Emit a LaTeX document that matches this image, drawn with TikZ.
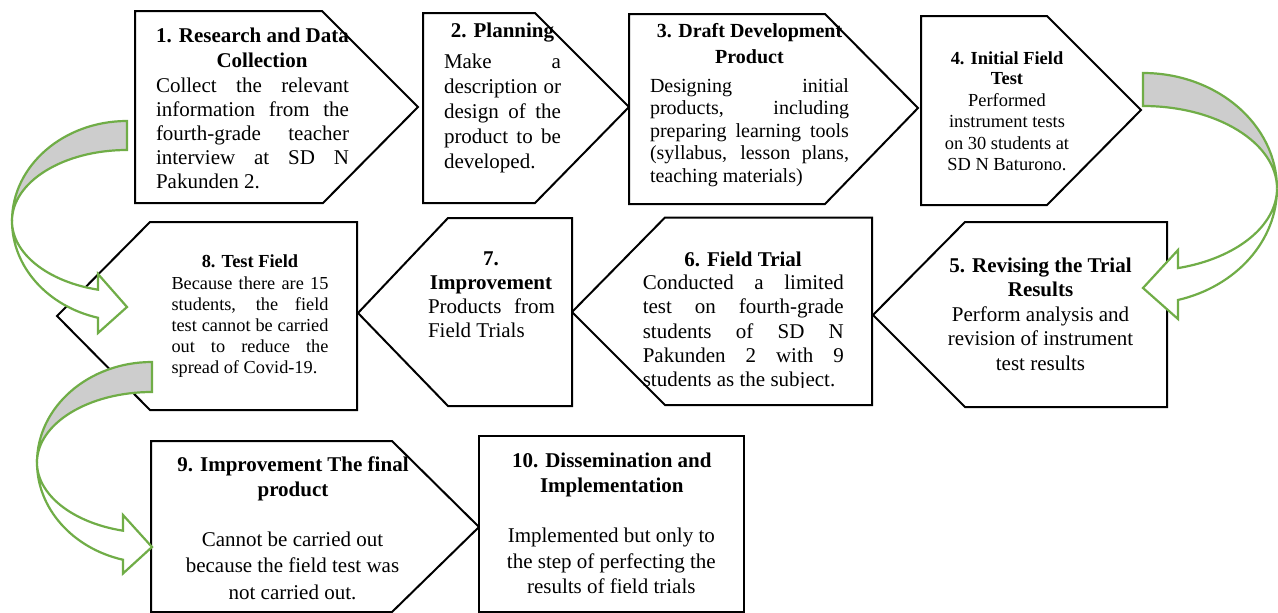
\documentclass[tikz,border=0pt]{standalone}
\usepackage{fontspec}
\setmainfont{Liberation Serif}
\newcommand\fsz[2]{\fontsize{#1}{#2}\selectfont}
% one justified line of fixed width (in pt)
\newcommand\jl[2]{\makebox[#1pt][s]{#2}}
\definecolor{arrowgreen}{HTML}{70AD47}
\definecolor{arrowgray}{HTML}{CDCDCD}
\begin{document}
\begin{tikzpicture}[x=1pt,y=-1pt,
  stagebox/.style={draw=black, line width=2pt, fill=white, miter limit=10},
  % multi-line nodes sit on the baseline of their last line
  ttl/.style={align=center, inner sep=0pt, anchor=base, font=\bfseries\fsz{21}{24.5}},
  txt/.style={align=center, inner sep=0pt, anchor=base, font=\fsz{21}{24.5}},
  jst/.style={align=left, inner sep=0pt, anchor=base, font=\fsz{21}{24.2}},
  bandback/.style={draw=arrowgreen, line width=2.2pt, fill=arrowgray},
  bandfront/.style={draw=arrowgreen, line width=2.2pt, fill=white}]
\useasboundingbox (0,0) rectangle (1278,613);
\fill[white] (0,0) rectangle (1278,613);

% ---- stage shapes ----
\draw[stagebox] (135,11) -- (322,11) -- (418,107) -- (323,203) -- (135,203) -- cycle;
\draw[stagebox] (423,13) -- (535,13) -- (629,107) -- (535,203) -- (423,203) -- cycle;
\draw[stagebox] (629,14) -- (825,14) -- (918,108) -- (825,204) -- (629,204) -- cycle;
\draw[stagebox] (921,16) -- (1047,16) -- (1141,110) -- (1047,205) -- (921,205) -- cycle;
\draw[stagebox] (1167,222) -- (965,222) -- (873,315) -- (965,407) -- (1167,407) -- cycle;
\draw[stagebox] (872,217.5) -- (665,217.5) -- (572,312) -- (665,405) -- (872,405) -- cycle;
\draw[stagebox] (572,218) -- (448,218) -- (358,313) -- (448,406) -- (572,406) -- cycle;
\draw[stagebox] (357,222) -- (150,222) -- (57,316) -- (150,410) -- (357,410) -- cycle;
\draw[stagebox] (151,441) -- (392,441) -- (479,527) -- (392,612) -- (151,612) -- cycle;
\draw[stagebox] (479,436) -- (744,436) -- (744,612) -- (479,612) -- cycle;

% ---- 1 ----
\node[ttl] (t1) at (252.5,42.3) {1. Research and Data};
\node[ttl] (t1b) at (262,67.3) {Collection};
\node[jst] (b1) at (252.5,188.8) {\jl{193}{Collect the relevant}\\\jl{193}{information from the}\\\jl{193}{fourth-grade teacher}\\\jl{193}{interview at SD N}\\Pakunden 2.};
% ---- 2 ----
\node[ttl] (t2) at (502.5,37) {2. Planning};
\node[jst, font=\fsz{21}{25}] (b2) at (502.5,168.3) {\jl{117}{Make a}\\\jl{117}{description or}\\\jl{117}{design of the}\\\jl{117}{product to be}\\developed.};
% ---- 3 ----
\node[ttl, font=\bfseries\fsz{20}{26.5}] (t3) at (749.5,63.8) {3. Draft Development\\Product};
\node[jst, font=\fsz{20}{22.5}] (b3) at (749.5,182.3) {\jl{199}{Designing initial}\\\jl{199}{products, including}\\\jl{199}{preparing learning tools}\\\jl{199}{(syllabus, lesson plans,}\\teaching materials)};
% ---- 4 ----
\node[ttl, font=\bfseries\fsz{18.4}{20.5}] (t4) at (1007,84.5) {4. Initial Field\\Test};
\node[txt, font=\fsz{18.4}{21.5}] (b4) at (1007,170.5) {Performed\\instrument tests\\on 30 students at\\SD N Baturono.};
% ---- 5 ----
\node[ttl, font=\bfseries\fsz{21}{24}] (t5) at (1040.5,296.7) {5. Revising the Trial\\Results};
\node[txt, font=\fsz{21}{24.5}] (b5) at (1040.5,370) {Perform analysis and\\revision of instrument\\test results};
% ---- 6 (text box cut off at the bottom) ----
\node[ttl] (t6) at (743,266) {6. Field Trial};
\begin{scope}
  \clip (560,200) rectangle (880,387.5);
  \node[jst, font=\fsz{21}{24.35}] (b6) at (743.3,386.7) {\jl{201}{Conducted a limited}\\\jl{201}{test on fourth-grade}\\\jl{201}{students of SD N}\\\jl{201}{Pakunden 2 with 9}\\students as the subject.};
\end{scope}
% ---- 7 ----
\node[ttl, font=\bfseries\fsz{21}{24}] (t7) at (491,289) {7.\\Improvement};
\node[jst, font=\fsz{21}{24.4}] (b7) at (491.5,337.7) {\jl{127}{Products from}\\Field Trials};
% ---- 8 ----
\node[ttl, font=\bfseries\fsz{18.4}{21}] (t8) at (250,267) {8. Test Field};
\node[jst, font=\fsz{18.3}{21}] (b8) at (250,373.3) {\jl{157}{Because there are 15}\\\jl{157}{students, the field}\\\jl{157}{test cannot be carried}\\\jl{157}{out to reduce the}\\spread of Covid-19.};
% ---- 9 ----
\node[ttl, font=\bfseries\fsz{21}{24.8}] (t9) at (293,496.5) {9. Improvement The final\\product};
\node[txt, font=\fsz{21}{26.5}] (b9) at (292.5,599) {Cannot be carried out\\because the field test was\\not carried out.};
% ---- 10 ----
\node[ttl, font=\bfseries\fsz{21}{24.7}] (t10) at (611.8,492) {10. Dissemination and\\Implementation};
\node[txt, font=\fsz{21}{25.3}] (b10) at (611.3,593.3) {Implemented but only to\\the step of perfecting the\\results of field trials};

% ---- curved arrow 4 -> 5 (right side) ----
\draw[bandback] (1143,73) arc[start angle=90, end angle=0, x radius=134pt, y radius=115.5pt]
  arc[start angle=0, end angle=90, x radius=134pt, y radius=82.5pt] -- cycle;
\draw[bandfront] (1277,188.5) arc[start angle=0, end angle=-74.86, x radius=134pt, y radius=115.5pt]
  -- (1178,319) -- (1143,288) -- (1178,250) -- (1178,268.1)
  arc[start angle=-74.86, end angle=0, x radius=134pt, y radius=82.5pt] -- cycle;

% ---- curved arrow 1 -> 8 (left side) ----
\draw[bandback] (127,121) arc[start angle=90, end angle=180, x radius=115pt, y radius=100pt]
  arc[start angle=180, end angle=90, x radius=115pt, y radius=71pt] -- cycle;
\draw[bandfront] (12,221) arc[start angle=180, end angle=255.4, x radius=115pt, y radius=100pt]
  -- (98,333) -- (127,307) -- (98,274) -- (98,289.7)
  arc[start angle=255.4, end angle=180, x radius=115pt, y radius=71pt] -- cycle;

% ---- curved arrow 8 -> 9 (left side) ----
\draw[bandback] (152,362) arc[start angle=90, end angle=180, x radius=115pt, y radius=100.5pt]
  arc[start angle=180, end angle=90, x radius=115pt, y radius=70.5pt] -- cycle;
\draw[bandfront] (37,462.5) arc[start angle=180, end angle=255.4, x radius=115pt, y radius=100.5pt]
  -- (123,573.5) -- (152,547) -- (123,515) -- (123,530.7)
  arc[start angle=255.4, end angle=180, x radius=115pt, y radius=70.5pt] -- cycle;
\end{tikzpicture}
\end{document}
